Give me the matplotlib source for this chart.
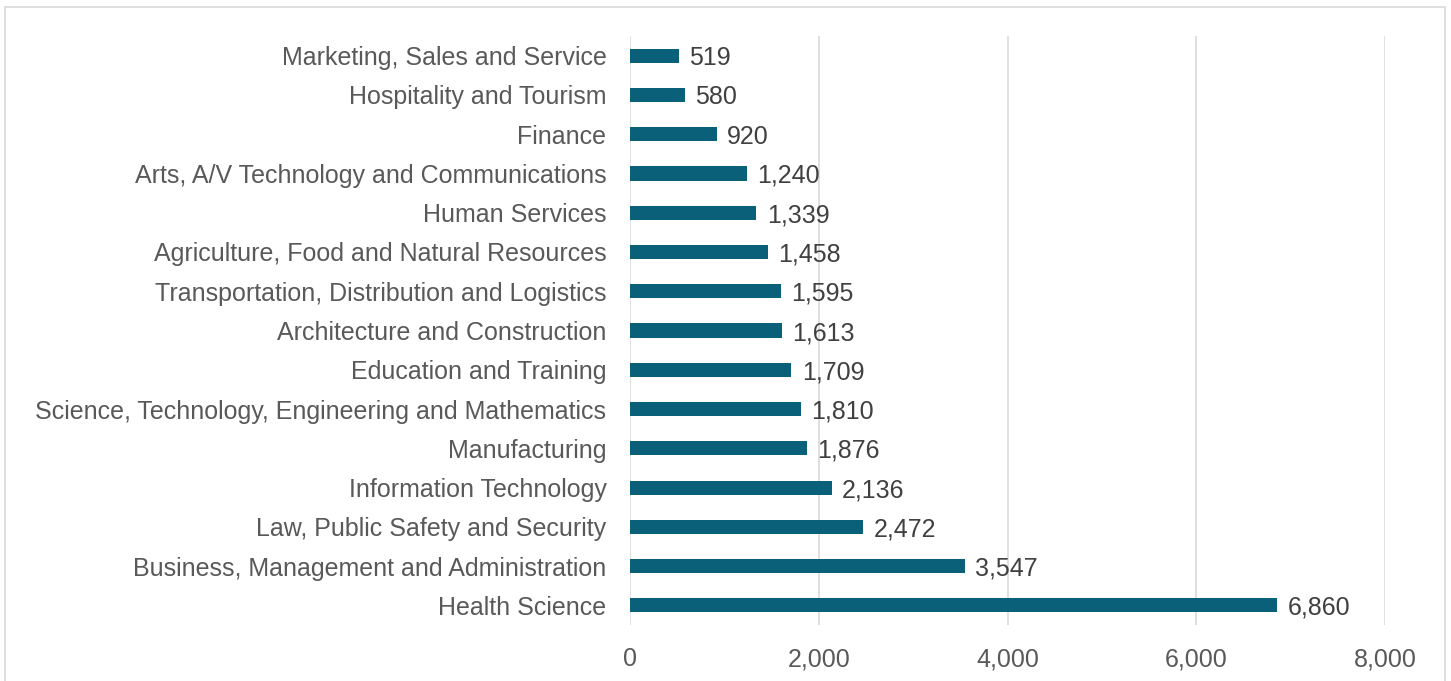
import matplotlib.pyplot as plt
from matplotlib.patches import Rectangle
from matplotlib.ticker import FuncFormatter

# categories listed bottom to top
categories = [
    "Health Science",
    "Business, Management and Administration",
    "Law, Public Safety and Security",
    "Information Technology",
    "Manufacturing",
    "Science, Technology, Engineering and Mathematics",
    "Education and Training",
    "Architecture and Construction",
    "Transportation, Distribution and Logistics",
    "Agriculture, Food and Natural Resources",
    "Human Services",
    "Arts, A/V Technology and Communications",
    "Finance",
    "Hospitality and Tourism",
    "Marketing, Sales and Service",
]
values = [6860, 3547, 2472, 2136, 1876, 1810, 1709, 1613, 1595, 1458, 1339, 1240, 920, 580, 519]
x_ticks = [0, 2000, 4000, 6000, 8000]

plt.rcParams['font.family'] = ['Liberation Sans', 'DejaVu Sans']

fig = plt.figure(figsize=(14.51, 6.81), dpi=100)
ax = fig.add_axes([0.4342, 0.0822, 0.5203, 0.8649])

ypos = list(range(len(categories)))
ax.barh(ypos, values, height=0.36, color="#0A6079", zorder=3)

for y, v in zip(ypos, values):
    ax.text(v + 110, y, f"{v:,}", va="center_baseline", ha="left",
            fontsize=18, color="#404040")

ax.set_xlim(0, 8000)
ax.set_ylim(-0.5, len(categories) - 0.5)
ax.set_yticks(ypos)
ax.set_yticklabels(categories, fontsize=18, color="#595959")
ax.set_xticks(x_ticks)
ax.xaxis.set_major_formatter(FuncFormatter(lambda v, p: f"{int(v):,}"))
ax.tick_params(axis="x", labelsize=18, colors="#595959", length=0, pad=16)
ax.tick_params(axis="y", length=0, pad=17)
ax.grid(axis="x", color="#D9D9D9", linewidth=1.2, zorder=0)
for s in ax.spines.values():
    s.set_visible(False)

# outer chart border
fig.patches.append(Rectangle((5 / 1451, -0.01), 1440 / 1451, 1 - 7 / 681 + 0.01,
                             transform=fig.transFigure, fill=False,
                             edgecolor="#D9D9D9", linewidth=1.2))

fig.savefig("out.png", dpi=100)
